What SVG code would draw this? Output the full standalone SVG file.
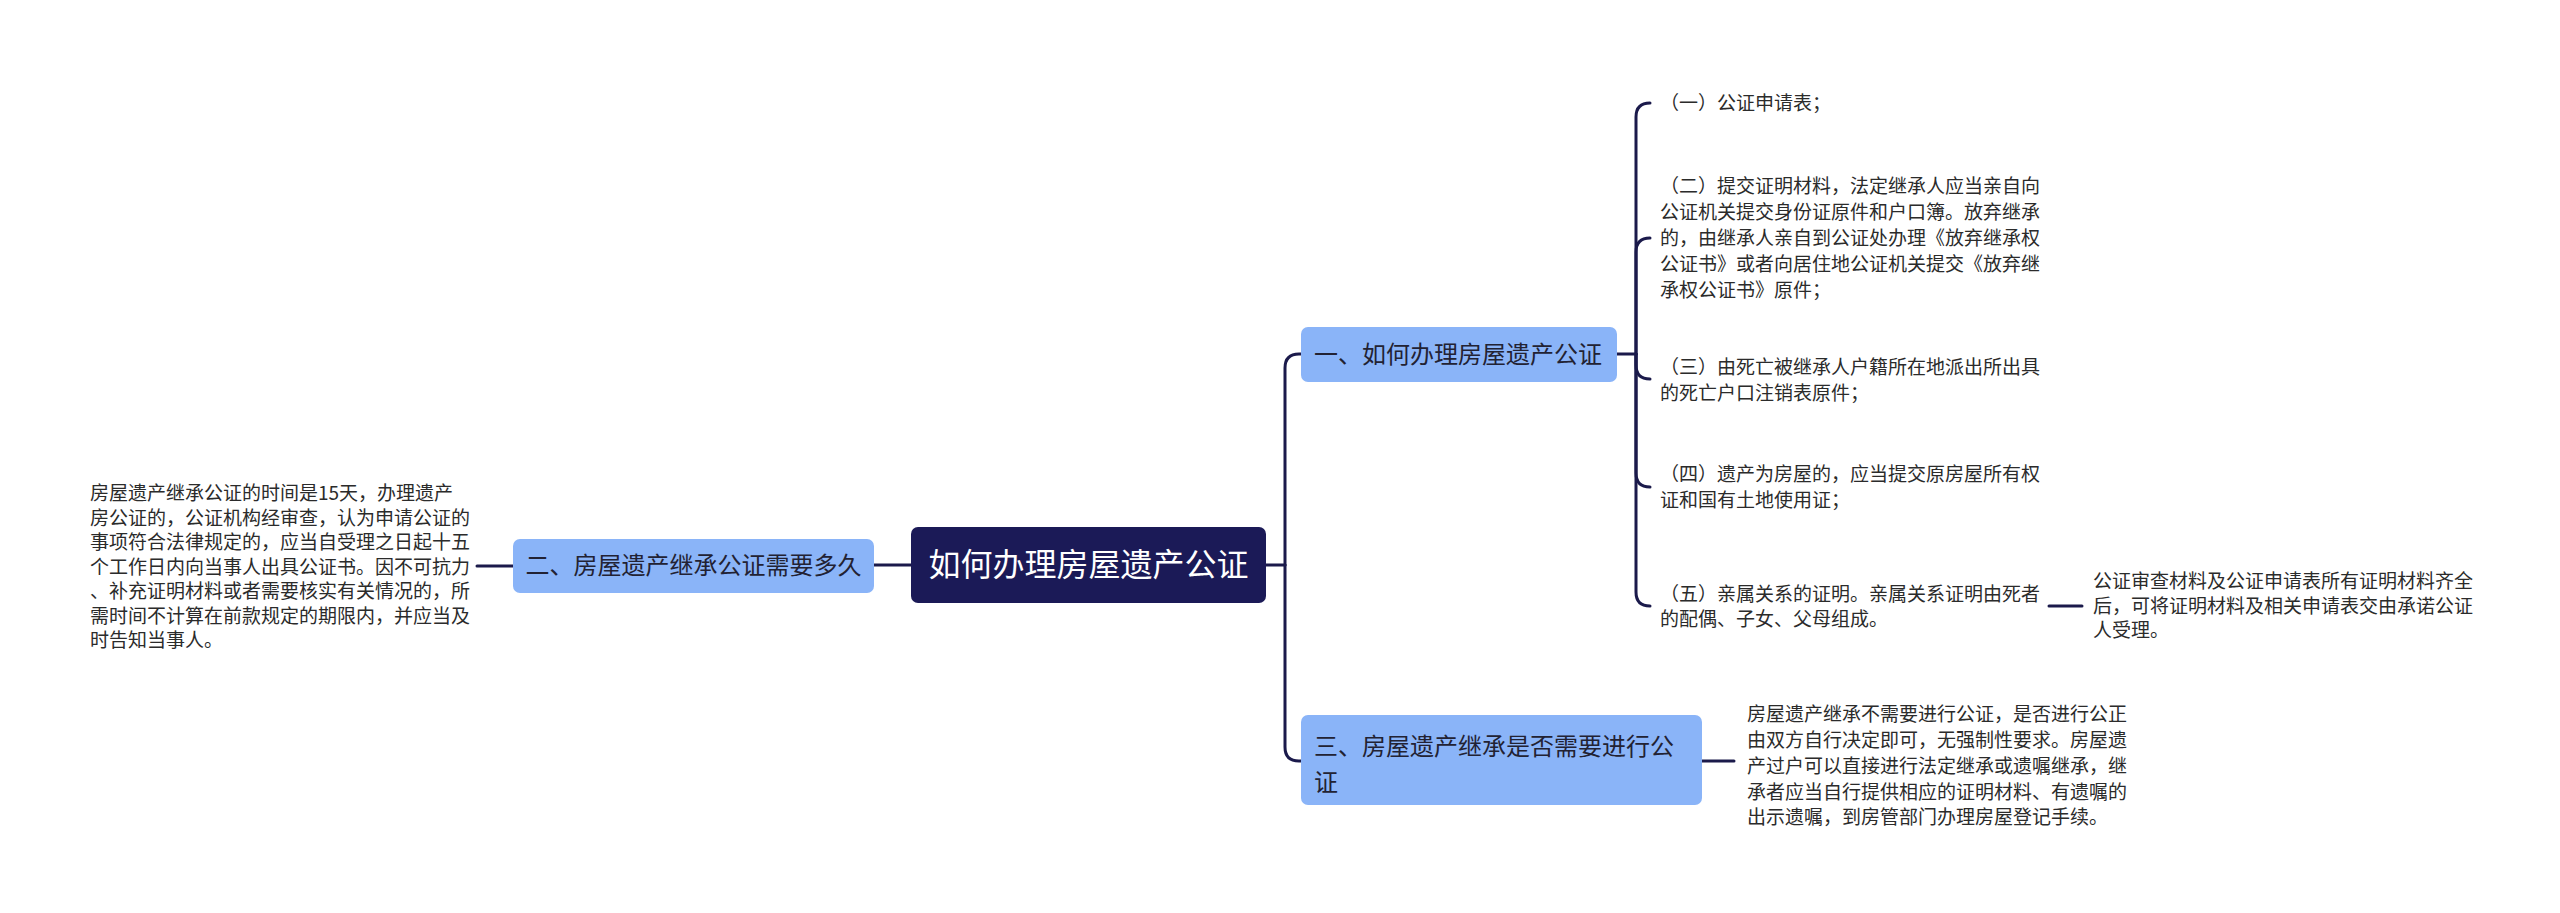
<svg xmlns="http://www.w3.org/2000/svg" width="2560" height="913" viewBox="0 0 2560 913">
<style>
text{font-family:"Noto Sans CJK SC","Noto Sans",sans-serif;}
.leaf{font-size:19px;fill:#2b2b2b;}
.node rect{fill:#8ab4f8;}
.ntxt{font-size:24px;fill:#222233;}
.root rect{fill:#1b1a57;}
.rtxt{font-size:32px;fill:#ffffff;}
.conn path{fill:none;stroke:#1b1a4b;stroke-width:3;stroke-linecap:round;}
</style>
<rect width="2560" height="913" fill="#ffffff"/>
<g class="conn" id="connectors">
<path d="M911 565 H874"/>
<path d="M513 566 H477"/>
<path d="M1266 565 H1285"/>
<path d="M1285 565 V368 Q1285 354 1299 354 H1301"/>
<path d="M1285 565 V747 Q1285 761 1299 761 H1301"/>
<path d="M1617 354 H1636"/>
<path d="M1636 354 V117 Q1636 103 1650 103"/>
<path d="M1636 354 V252 Q1636 238 1650 238"/>
<path d="M1636 354 V365 Q1636 379 1650 379"/>
<path d="M1636 354 V473 Q1636 487 1650 487"/>
<path d="M1636 354 V592 Q1636 606 1650 606"/>
<path d="M2049 606 H2082"/>
<path d="M1702 761 H1734"/>
</g>
<g id="root" class="root">
<rect x="911" y="527" width="355" height="76" rx="7"/>
<text class="rtxt" x="1088.5" y="576" text-anchor="middle">如何办理房屋遗产公证</text>
</g>
<g id="n2" class="node">
<rect x="513" y="539" width="361" height="54" rx="7"/>
<text class="ntxt" x="693.5" y="574" text-anchor="middle">二、房屋遗产继承公证需要多久</text>
</g>
<g id="n2c">
<text class="leaf" x="90"><tspan x="90" y="500">房屋遗产继承公证的时间是15天，办理遗产</tspan><tspan x="90" y="525">房公证的，公证机构经审查，认为申请公证的</tspan><tspan x="90" y="549">事项符合法律规定的，应当自受理之日起十五</tspan><tspan x="90" y="574">个工作日内向当事人出具公证书。因不可抗力</tspan><tspan x="90" y="598">、补充证明材料或者需要核实有关情况的，所</tspan><tspan x="90" y="623">需时间不计算在前款规定的期限内，并应当及</tspan><tspan x="90" y="647">时告知当事人。</tspan></text>
</g>
<g id="n1" class="node">
<rect x="1301" y="327" width="316" height="55" rx="7"/>
<text class="ntxt" x="1314" y="363">一、如何办理房屋遗产公证</text>
</g>
<g id="n1a">
<text class="leaf"><tspan x="1660" y="110">（一）公证申请表；</tspan></text>
</g>
<g id="n1b">
<text class="leaf"><tspan x="1660" y="193">（二）提交证明材料，法定继承人应当亲自向</tspan><tspan x="1660" y="219">公证机关提交身份证原件和户口簿。放弃继承</tspan><tspan x="1660" y="245">的，由继承人亲自到公证处办理《放弃继承权</tspan><tspan x="1660" y="271">公证书》或者向居住地公证机关提交《放弃继</tspan><tspan x="1660" y="297">承权公证书》原件；</tspan></text>
</g>
<g id="n1c">
<text class="leaf"><tspan x="1660" y="374">（三）由死亡被继承人户籍所在地派出所出具</tspan><tspan x="1660" y="400">的死亡户口注销表原件；</tspan></text>
</g>
<g id="n1d">
<text class="leaf"><tspan x="1660" y="481">（四）遗产为房屋的，应当提交原房屋所有权</tspan><tspan x="1660" y="507">证和国有土地使用证；</tspan></text>
</g>
<g id="n1e">
<text class="leaf"><tspan x="1660" y="601">（五）亲属关系的证明。亲属关系证明由死者</tspan><tspan x="1660" y="626">的配偶、子女、父母组成。</tspan></text>
</g>
<g id="n1e1">
<text class="leaf"><tspan x="2093" y="588">公证审查材料及公证申请表所有证明材料齐全</tspan><tspan x="2093" y="613">后，可将证明材料及相关申请表交由承诺公证</tspan><tspan x="2093" y="637">人受理。</tspan></text>
</g>
<g id="n3" class="node">
<rect x="1301" y="715" width="401" height="90" rx="7"/>
<text class="ntxt"><tspan x="1314" y="755">三、房屋遗产继承是否需要进行公</tspan><tspan x="1314" y="791">证</tspan></text>
</g>
<g id="n3c">
<text class="leaf"><tspan x="1747" y="721">房屋遗产继承不需要进行公证，是否进行公正</tspan><tspan x="1747" y="747">由双方自行决定即可，无强制性要求。房屋遗</tspan><tspan x="1747" y="773">产过户可以直接进行法定继承或遗嘱继承，继</tspan><tspan x="1747" y="799">承者应当自行提供相应的证明材料、有遗嘱的</tspan><tspan x="1747" y="824">出示遗嘱，到房管部门办理房屋登记手续。</tspan></text>
</g>
</svg>
